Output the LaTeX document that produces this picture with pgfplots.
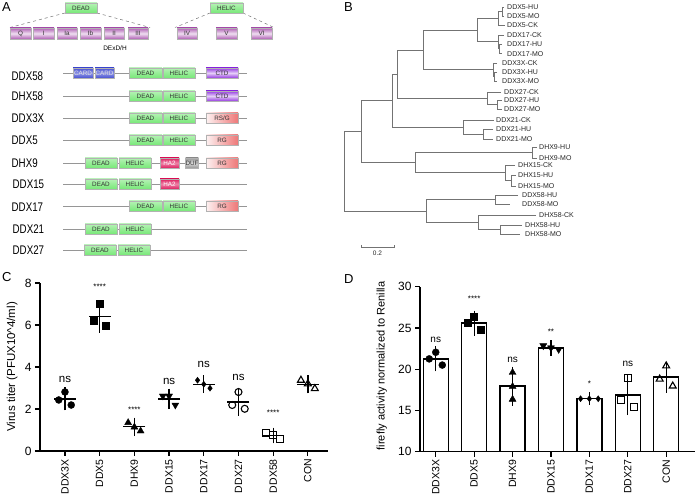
\documentclass[border=0pt]{standalone}
\usepackage{fontspec}
\setmainfont{Liberation Sans}
\newfontfamily\narrowf[FakeStretch=0.78]{Liberation Sans}
\usepackage{pgfplots}
\pgfplotsset{compat=1.18}

\definecolor{grn}{RGB}{120,232,120}
\definecolor{mot}{RGB}{175,95,180}
\definecolor{ctd}{RGB}{150,60,225}
\definecolor{card}{RGB}{70,80,210}
\definecolor{rg}{RGB}{238,120,120}
\definecolor{ha}{RGB}{222,30,95}
\definecolor{duf}{RGB}{150,150,150}
\definecolor{treec}{RGB}{115,115,115}
\definecolor{bb}{RGB}{150,150,150}

\newcommand\fs[1]{\fontsize{#1}{#1}\selectfont}

\tikzset{
  bx/.style={inner sep=0pt, minimum height=10pt, draw=black!30, line width=0.35pt,
             font=\fs{6.3}, text=black!80},
  gbox/.style={bx, top color=grn!55, bottom color=grn},
  mbox/.style={bx, minimum height=11pt, top color=mot, bottom color=mot, middle color=mot!20},
  ctdbox/.style={bx, top color=ctd, bottom color=ctd, middle color=ctd!25},
  cardbox/.style={bx, top color=card, bottom color=card, middle color=card!60, text=white!90!black},
  rgbox/.style={bx, left color=rg!10, middle color=rg!85, right color=rg},
  habox/.style={bx, top color=ha, bottom color=ha, middle color=ha!55, text=white},
  dufbox/.style={bx, top color=duf, bottom color=duf, middle color=duf!35},
  leaf/.style={anchor=west, font=\fs{7}, text=black!85, inner sep=0pt},
  prot/.style={anchor=west, font=\narrowf\fs{12.5}, inner sep=0pt},
  letter/.style={anchor=west, font=\fs{13}, inner sep=0pt},
  xlab/.style={rotate=90, anchor=east, font=\fs{#1}, inner sep=0pt},
}
% style, x centre, width, y centre, text
\newcommand\dom[5]{\node[#1, minimum width=#3pt] at (axis cs:#2,#4) {#5};}
\newcommand\dhR[1]{\dom{gbox}{145.5}{33}{#1}{DEAD}\dom{gbox}{179}{32}{#1}{HELIC}}
\newcommand\dhL[1]{\dom{gbox}{101}{32}{#1}{DEAD}\dom{gbox}{135}{32}{#1}{HELIC}}
\newcommand\bbone[1]{\draw[bb, line width=0.8pt] (axis cs:63,#1) -- (axis cs:247,#1);}

\pgfplotsset{
  tr/.style={draw=treec, line width=0.7pt, mark=none},
  meanC/.style={black, only marks, mark=-, mark size=11pt, mark options={line width=1.3pt},
    error bars/.cd, y dir=both, y explicit,
    error bar style={line width=1.3pt}, error mark options={line width=1.3pt, mark size=5pt}},
  ptf/.style={black, only marks, mark=#1, mark size=3.5pt},
  pto/.style={black, only marks, mark=#1, mark size=3.5pt, mark options={line width=1.1pt, fill=none}},
  gp/.style={
    axis x line*=bottom, axis y line*=left,
    axis line style={line width=1.2pt},
    major tick style={black, line width=1.2pt},
    tick align=outside, major tick length=5pt,
    /pgf/number format/assume math mode=true,
    yticklabel style={font=\fs{12}},
    xticklabels={},
  },
}

\begin{document}
\begin{tikzpicture}
\useasboundingbox (0pt,0pt) rectangle (696pt,495pt);

% ---------- canvas for panels A and B (pixel coordinates, y downwards)
\begin{axis}[at={(0pt,0pt)}, anchor=south west, scale only axis,
  width=696pt, height=495pt, xmin=0, xmax=696, ymin=0, ymax=495,
  y dir=reverse, hide axis, clip=false]

% panel A
\node[letter] at (axis cs:2,7) {A};
\draw[black!55, dashed, line width=0.5pt] (axis cs:65,13) -- (axis cs:10,27.5);
\draw[black!55, dashed, line width=0.5pt] (axis cs:97,13) -- (axis cs:150,27.5);
\draw[black!55, dashed, line width=0.5pt] (axis cs:210,13) -- (axis cs:175,27.5);
\draw[black!55, dashed, line width=0.5pt] (axis cs:243,13) -- (axis cs:274,27.5);
\dom{gbox}{81}{32}{8}{DEAD}
\dom{gbox}{226.5}{33}{8}{HELIC}
\dom{mbox}{20.5}{21}{33.5}{Q}
\dom{mbox}{43.5}{21}{33.5}{I}
\dom{mbox}{67}{20}{33.5}{Ia}
\dom{mbox}{90.5}{21}{33.5}{Ib}
\dom{mbox}{114}{20}{33.5}{II}
\dom{mbox}{138}{20}{33.5}{III}
\dom{mbox}{187}{20}{33.5}{IV}
\dom{mbox}{226.5}{21}{33.5}{V}
\dom{mbox}{261.5}{21}{33.5}{VI}
\node[font=\fs{6.5}] at (axis cs:115,48) {DExD/H};

\bbone{73}
\node[prot] at (axis cs:11.5,76) {DDX58};
\dom{cardbox}{83}{20}{73}{CARD}
\dom{cardbox}{104.5}{19}{73}{CARD}
\dhR{73}
\dom{ctdbox}{222}{32}{73}{CTD}

\bbone{96}
\node[prot] at (axis cs:11.5,96) {DHX58};
\dhR{96}
\dom{ctdbox}{222}{32}{96}{CTD}

\bbone{118}
\node[prot] at (axis cs:11.5,118) {DDX3X};
\dhR{118}
\dom{rgbox}{222}{32}{118}{RS/G}

\bbone{140}
\node[prot] at (axis cs:11.5,140) {DDX5};
\dhR{140}
\dom{rgbox}{222}{32}{140}{RG}

\bbone{163}
\node[prot] at (axis cs:11.5,163) {DHX9};
\dhL{163}
\dom{habox}{169.5}{19}{163}{HA2}
\dom{dufbox}{192}{10}{163}{DUF}
\dom{rgbox}{222}{32}{163}{RG}

\bbone{184}
\node[prot] at (axis cs:12.5,184) {DDX15};
\dhL{184}
\dom{habox}{169.5}{19}{184}{HA2}

\bbone{206}
\node[prot] at (axis cs:11.5,207) {DDX17};
\dhR{206}
\dom{rgbox}{222}{32}{206}{RG}

\bbone{229}
\node[prot] at (axis cs:12.5,229) {DDX21};
\dhL{229}

\bbone{250}
\node[prot] at (axis cs:12.5,250) {DDX27};
\dom{gbox}{100}{32}{250}{DEAD}
\dom{gbox}{134}{32}{250}{HELIC}

% panel B: tree
\node[letter] at (axis cs:344,7) {B};
\addplot[tr] coordinates {(504,7) (502,7) (502,16) (504,16)};
\addplot[tr] coordinates {(502,11.5) (498,11.5) (498,25) (505,25)};
\addplot[tr] coordinates {(502,44) (499,44) (499,53) (502,53)};
\addplot[tr] coordinates {(504,35) (498,35) (498,48.5) (499,48.5)};
\addplot[tr] coordinates {(498,18.25) (477,18.25) (477,41.75) (498,41.75)};
\addplot[tr] coordinates {(497,72) (494.5,72) (494.5,81) (497,81)};
\addplot[tr] coordinates {(497,63) (493,63) (493,76.5) (494.5,76.5)};
\addplot[tr] coordinates {(477,30) (423,30) (423,69.75) (493,69.75)};
\addplot[tr] coordinates {(502,100) (497,100) (497,109) (502,109)};
\addplot[tr] coordinates {(501,92) (487,92) (487,104.5) (497,104.5)};
\addplot[tr] coordinates {(423,49.9) (397,49.9) (397,98.25) (487,98.25)};
\addplot[tr] coordinates {(493,129) (483,129) (483,139) (493,139)};
\addplot[tr] coordinates {(494,120) (463,120) (463,134) (483,134)};
\addplot[tr] coordinates {(397,74.1) (392,74.1) (392,127) (463,127)};
\addplot[tr] coordinates {(537,147) (532,147) (532,158) (537,158)};
\addplot[tr] coordinates {(516,175) (511,175) (511,186) (516,186)};
\addplot[tr] coordinates {(515,165) (505,165) (505,180.5) (511,180.5)};
\addplot[tr] coordinates {(532,152.5) (415,152.5) (415,172.75) (505,172.75)};
\addplot[tr] coordinates {(392,100.55) (361,100.55) (361,162.6) (415,162.6)};
\addplot[tr] coordinates {(518,195) (495,195) (495,204) (510,204)};
\addplot[tr] coordinates {(522,225) (500,225) (500,234) (520,234)};
\addplot[tr] coordinates {(536,215) (478,215) (478,229.5) (500,229.5)};
\addplot[tr] coordinates {(495,199.5) (426,199.5) (426,222.25) (478,222.25)};
\addplot[tr] coordinates {(361,131.6) (344,131.6) (344,210.9) (426,210.9)};
\addplot[tr] coordinates {(361,245) (361,247) (394,247) (394,245)};
\node[font=\fs{6.5}, text=black!85] at (axis cs:377.5,253) {0.2};

\node[leaf] at (axis cs:507,7) {DDX5-HU};
\node[leaf] at (axis cs:507,16) {DDX5-MO};
\node[leaf] at (axis cs:507,25) {DDX5-CK};
\node[leaf] at (axis cs:507,35) {DDX17-CK};
\node[leaf] at (axis cs:507,44) {DDX17-HU};
\node[leaf] at (axis cs:507,54) {DDX17-MO};
\node[leaf] at (axis cs:502,63) {DDX3X-CK};
\node[leaf] at (axis cs:502,72) {DDX3X-HU};
\node[leaf] at (axis cs:502,81) {DDX3X-MO};
\node[leaf] at (axis cs:504,92) {DDX27-CK};
\node[leaf] at (axis cs:504,100) {DDX27-HU};
\node[leaf] at (axis cs:504,109) {DDX27-MO};
\node[leaf] at (axis cs:496,120) {DDX21-CK};
\node[leaf] at (axis cs:496,129) {DDX21-HU};
\node[leaf] at (axis cs:496,139) {DDX21-MO};
\node[leaf] at (axis cs:539,147) {DHX9-HU};
\node[leaf] at (axis cs:539,158) {DHX9-MO};
\node[leaf] at (axis cs:518,165) {DHX15-CK};
\node[leaf] at (axis cs:518,175) {DHX15-HU};
\node[leaf] at (axis cs:518,186) {DHX15-MO};
\node[leaf] at (axis cs:522,195) {DDX58-HU};
\node[leaf] at (axis cs:522,204) {DDX58-MO};
\node[leaf] at (axis cs:539,215) {DHX58-CK};
\node[leaf] at (axis cs:525,225) {DHX58-HU};
\node[leaf] at (axis cs:525,234) {DHX58-MO};

\node[letter] at (axis cs:2,277) {C};
\node[letter] at (axis cs:344,279) {D};
\end{axis}

% ---------- panel C
\begin{axis}[gp, at={(40pt,44pt)}, anchor=south west, scale only axis,
  width=288pt, height=168pt,
  xmin=-0.72, xmax=7.58, ymin=0, ymax=8,
  xtick={0,...,7},
  ytick={0,2,4,6,8},
  ylabel={Virus titer (PFUX10\textasciicircum 4/ml)},
  ylabel style={font=\fs{11.5}, at={(axis description cs:-0.097,0.5)}, anchor=center},
  clip=false]
\addplot[meanC] coordinates {
  (0,2.48) +- (0,0.31)
  (1,6.40) +- (0,0.54)
  (2,1.15) +- (0,0.20)
  (3,2.48) +- (0,0.25)
  (4,3.18) +- (0,0.19)
  (5,2.34) +- (0,0.42)
  (6,0.74) +- (0,0.14)
  (7,3.18) +- (0,0.20)
};
\addplot[ptf=*] coordinates {(-0.18,2.43) (0,2.81) (0.18,2.19)};
\addplot[ptf=square*] coordinates {(0.82,6.22) (1,7.01) (1.18,5.98)};
\addplot[ptf=triangle*, mark size=4pt] coordinates {(1.82,1.35) (2,1.14) (2.18,0.95)};
\addplot[ptf=triangle*, mark size=4pt, mark options={rotate=180}] coordinates {(2.82,2.62) (3,2.62) (3.18,2.19)};
\addplot[ptf=diamond*, mark size=3pt] coordinates {(3.82,3.37) (4,3.18) (4.18,2.99)};
\addplot[pto=o] coordinates {(4.82,2.19) (5,2.81) (5.18,2.01)};
\addplot[pto=square] coordinates {(5.8,0.87) (6,0.76) (6.2,0.59)};
\addplot[pto=triangle, mark size=4pt] coordinates {(6.8,3.37) (7,3.2) (7.2,2.97)};
\node[font=\fs{11.5}] at (axis cs:0,3.43) {ns};
\node[font=\fs{8}] at (axis cs:1,7.8) {****};
\node[font=\fs{8}] at (axis cs:2,1.95) {****};
\node[font=\fs{11.5}] at (axis cs:3,3.29) {ns};
\node[font=\fs{11.5}] at (axis cs:4,4.1) {ns};
\node[font=\fs{11.5}] at (axis cs:5,3.52) {ns};
\node[font=\fs{8}] at (axis cs:6,1.81) {****};
% category names
\node[xlab=10.5] at ([yshift=-8pt]axis cs:0,0) {DDX3X};
\node[xlab=10.5] at ([yshift=-8pt]axis cs:1,0) {DDX5};
\node[xlab=10.5] at ([yshift=-8pt]axis cs:2,0) {DHX9};
\node[xlab=10.5] at ([yshift=-8pt]axis cs:3,0) {DDX15};
\node[xlab=10.5] at ([yshift=-8pt]axis cs:4,0) {DDX17};
\node[xlab=10.5] at ([yshift=-8pt]axis cs:5,0) {DDX27};
\node[xlab=10.5] at ([yshift=-8pt]axis cs:6,0) {DDX58};
\node[xlab=10.5] at ([yshift=-8pt]axis cs:7,0) {CON};
\end{axis}

% ---------- panel D
\begin{axis}[gp, at={(420pt,43.3pt)}, anchor=south west, scale only axis,
  width=275pt, height=165pt,
  xmin=-0.41, xmax=6.75, ymin=10, ymax=30,
  xtick={0,...,6},
  ytick={10,15,20,25,30},
  ylabel={firefly activity normalized to Renilla},
  ylabel style={font=\fs{11}, at={(axis description cs:-0.139,0.52)}, anchor=center}]
\addplot[ybar, bar width=25pt, fill=white, draw=black, line width=1.5pt,
  error bars/.cd, y dir=both, y explicit,
  error bar style={line width=1.3pt, black},
  error mark options={line width=1.3pt, mark size=6pt, black}] coordinates {
  (0,21.25) +- (0,0.78)
  (1,25.58) +- (0,0.78)
  (2,17.95) +- (0,1.63)
  (3,22.55) +- (0,0.23)
  (4,16.42) +- (0,0.05)
  (5,16.85) +- (0,1.70)
  (6,19.05) +- (0,1.15)
};
\addplot[ptf=*] coordinates {(-0.17,21.25) (0,22.05) (0.17,20.5)};
\addplot[ptf=square*] coordinates {(0.83,25.6) (1,26.35) (1.17,24.8)};
\addplot[ptf=triangle*, mark size=4pt] coordinates {(2,19.6) (2,17.9) (2,16.35)};
\addplot[ptf=triangle*, mark size=4pt, mark options={rotate=180}] coordinates {(2.8,22.85) (3,22.6) (3.2,22.4)};
\addplot[ptf=diamond*, mark size=3pt] coordinates {(3.77,16.42) (4,16.42) (4.23,16.42)};
\addplot[pto=square] coordinates {(4.83,16.27) (5,18.9) (5.17,15.45)};
\addplot[pto=triangle, mark size=4pt] coordinates {(5.83,18.8) (6,20.4) (6.17,17.96)};
\node[font=\fs{10}] at (axis cs:0,23.6) {ns};
\node[font=\fs{8}] at (axis cs:1,28.5) {****};
\node[font=\fs{10}] at (axis cs:2,21.1) {ns};
\node[font=\fs{8}] at (axis cs:3,24.55) {**};
\node[font=\fs{8}] at (axis cs:4,18.2) {*};
\node[font=\fs{10}] at (axis cs:5,20.6) {ns};
\end{axis}
% category names of panel D (outside the clipped axis)
\begin{axis}[at={(420pt,43.3pt)}, anchor=south west, scale only axis,
  width=275pt, height=165pt, xmin=-0.41, xmax=6.75, ymin=10, ymax=30,
  hide axis, clip=false]
\node[xlab=10.5] at ([yshift=-8pt]axis cs:0,10) {DDX3X};
\node[xlab=10.5] at ([yshift=-8pt]axis cs:1,10) {DDX5};
\node[xlab=10.5] at ([yshift=-8pt]axis cs:2,10) {DHX9};
\node[xlab=10.5] at ([yshift=-8pt]axis cs:3,10) {DDX15};
\node[xlab=10.5] at ([yshift=-8pt]axis cs:4,10) {DDX17};
\node[xlab=10.5] at ([yshift=-8pt]axis cs:5,10) {DDX27};
\node[xlab=10.5] at ([yshift=-8pt]axis cs:6,10) {CON};
\end{axis}
\end{tikzpicture}
\end{document}
